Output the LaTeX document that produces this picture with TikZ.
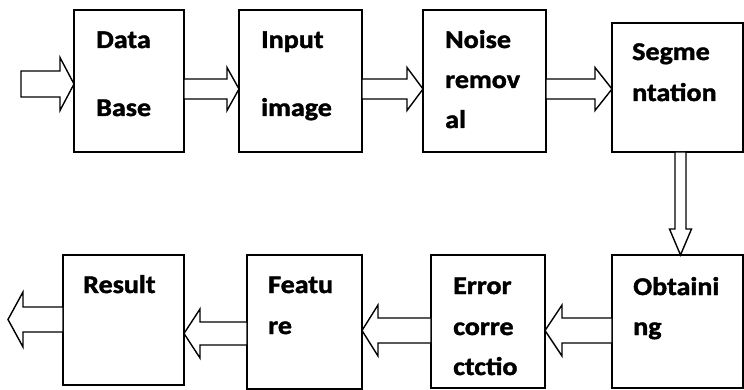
\documentclass[tikz,border=0pt]{standalone}
\usepackage{fontspec}
\setmainfont{Carlito}[FakeStretch=1.1, BoldFeatures={FakeBold=1.6}]
\usetikzlibrary{calc}

% horizontal hollow block arrow: tail point, tip point, centre y,
% shaft half-height, head half-height, signed head length
\newcommand\hblockarrow[6]{%
  \draw[blockarrow]
    (#1 |- 0,#3-#4) -- ($(#2 |- 0,#3-#4)+({-1*(#6)},0)$)
    -- ($(#2 |- 0,#3-#5)+({-1*(#6)},0)$) -- (#2 |- 0,#3)
    -- ($(#2 |- 0,#3+#5)+({-1*(#6)},0)$) -- ($(#2 |- 0,#3+#4)+({-1*(#6)},0)$)
    -- (#1 |- 0,#3+#4) -- cycle;}

\begin{document}
\begin{tikzpicture}[x=1pt,y=-1pt,
  box/.style={draw, line width=1.6pt, inner sep=0pt, outer sep=0pt},
  blockarrow/.style={draw, line width=1.4pt, fill=white, line join=miter},
  lbl/.style={anchor=base west, inner sep=0pt,
    font=\fontsize{25.5}{29}\selectfont\bfseries}]
\useasboundingbox (0,0) rectangle (744,390);

% upper row of stages
\node[box, minimum width=110, minimum height=142] (db)    at (129,81) {};
\node[box, minimum width=123, minimum height=142] (inp)   at (300.5,81) {};
\node[box, minimum width=123, minimum height=142] (noise) at (484.5,81) {};
\node[box, minimum width=131, minimum height=129] (seg)   at (677.5,87.5) {};
% lower row of stages
\node[box, minimum width=131, minimum height=133] (obt)   at (677.5,321.5) {};
\node[box, minimum width=114, minimum height=133] (err)   at (488,321.5) {};
\node[box, minimum width=115, minimum height=134] (feat)  at (304.5,322) {};
\node[box, minimum width=121, minimum height=130] (res)   at (123.5,320) {};

% labels
\node[lbl] (t1a) at (96,48)   {Data};
\node[lbl] (t1b) at (96,116)  {Base};
\node[lbl] (t2a) at (261,48)  {Input};
\node[lbl] (t2b) at (261,116) {image};
\node[lbl] (t3a) at (445,48)  {Noise};
\node[lbl] (t3b) at (445,88)  {remov};
\node[lbl] (t3c) at (445,128) {al};
\node[lbl] (t4a) at (632,60)  {Segme};
\node[lbl] (t4b) at (632,101) {ntation};
\node[lbl] (t5a) at (633,295) {Obtaini};
\node[lbl] (t5b) at (633,335) {ng};
\node[lbl] (t6a) at (453,294) {Error};
\node[lbl] (t6b) at (453,335) {corre};
\node[lbl] (t6c) at (453,375) {ctctio};
\node[lbl] (t7a) at (268,293) {Featu};
\node[lbl] (t7b) at (268,334) {re};
\node[lbl] (t8a) at (83,293)  {Result};

% free ends of the first and last arrows
\coordinate (src) at (21,84);
\coordinate (dst) at (8,319.5);

% arrows along the upper row
\hblockarrow{src}{db.west}{84}{13}{26.5}{14}
\hblockarrow{db.east}{inp.west}{89}{10}{21.5}{12}
\hblockarrow{inp.east}{noise.west}{89}{10}{21.5}{16}
\hblockarrow{noise.east}{seg.west}{89}{10}{21.5}{17}

% arrow down to the lower row
\draw[blockarrow]
  (seg.south -| 675,0) -- ($(obt.north -| 675,0)+(0,-26)$)
  -- ++(-5.5,0) -- (obt.north -| 680.5,0) -- ++(11,-26) -- ++(-5.5,0)
  -- (seg.south -| 686,0) -- cycle;

% arrows along the lower row
\hblockarrow{obt.west}{err.east}{330.5}{12.5}{25.5}{-17}
\hblockarrow{err.west}{feat.east}{330.5}{12.5}{25.5}{-16}
\hblockarrow{feat.west}{res.east}{333.5}{11.5}{24.5}{-16}
\hblockarrow{res.west}{dst}{319.5}{12.5}{27.5}{-15}
\end{tikzpicture}
\end{document}
